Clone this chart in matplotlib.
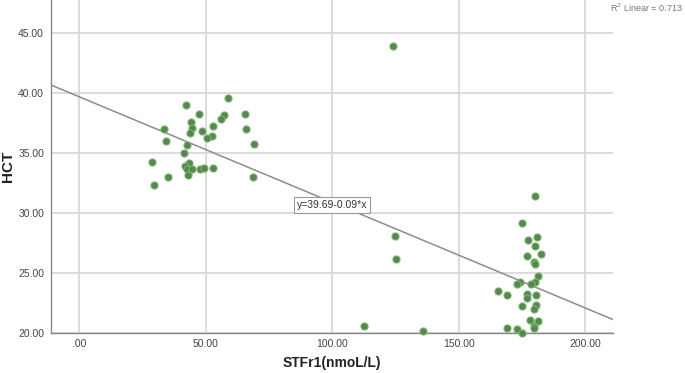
import numpy as np
import matplotlib.pyplot as plt

plt.rcParams['font.family'] = ['Liberation Sans', 'DejaVu Sans']

# STFr1 (nmol/L) vs HCT
stfr1 = [58.8, 42.2, 47.4, 57.3, 56.0, 65.5, 44.2, 53.1, 33.6, 44.5,
         48.6, 66.1, 43.9, 52.5, 50.7, 34.4, 69.1, 42.7, 41.6, 28.9,
         43.5, 41.9, 42.7, 44.5, 47.8, 49.3, 53.1, 35.3, 43.1, 29.8,
         68.8,
         124.2, 124.8, 125.3, 112.4, 136.0,
         180.1, 175.0, 180.9, 177.5, 180.1, 182.6, 176.9, 179.7, 180.0, 181.3,
         174.2, 173.2, 180.2, 178.5, 165.7, 169.0, 177.1, 180.4, 176.9, 175.1,
         180.5, 179.7, 178.3, 181.5, 179.8, 179.8, 169.2, 173.1, 175.1]
hct = [39.56, 38.98, 38.28, 38.17, 37.86, 38.28, 37.56, 37.28, 36.98, 37.08,
       36.86, 36.98, 36.67, 36.39, 36.25, 35.98, 35.78, 35.67, 34.98, 34.28,
       34.19, 33.94, 33.69, 33.67, 33.69, 33.78, 33.78, 32.98, 33.14, 32.36,
       32.98,
       43.94, 28.08, 26.17, 20.58, 20.20,
       31.39, 29.19, 27.97, 27.78, 27.28, 26.61, 26.39, 25.92, 25.72, 24.78,
       24.28, 24.08, 24.25, 24.11, 23.50, 23.19, 23.22, 23.19, 22.94, 22.28,
       22.36, 22.00, 21.11, 20.97, 20.58, 20.42, 20.42, 20.31, 20.03]

intercept = 39.69
slope = -0.088
fit_label = "y=39.69-0.09*x"
r2_label = "R$^2$ Linear = 0.713"

xticks = [0, 50, 100, 150, 200]
xticklabels = [".00", "50.00", "100.00", "150.00", "200.00"]
yticks = [20, 25, 30, 35, 40, 45]
yticklabels = ["20.00", "25.00", "30.00", "35.00", "40.00", "45.00"]

fig = plt.figure(figsize=(6.85, 3.73), dpi=100)
ax = fig.add_axes([51/685, 40/373, (613-51)/685, 333/373])

xlim = (-11.1, 211)
ax.set_xlim(*xlim)
ax.set_ylim(20, 47.75)

ax.set_xticks(xticks)
ax.set_xticklabels(xticklabels)
ax.set_yticks(yticks)
ax.set_yticklabels(yticklabels)
ax.grid(True, color='#d9d9d9', linewidth=1.3)
ax.set_axisbelow(True)
ax.tick_params(length=0, labelsize=7.5, colors='#444444')
ax.tick_params(axis='x', pad=4)
ax.tick_params(axis='y', pad=5)

for s in ['top', 'right']:
    ax.spines[s].set_visible(False)
for s in ['left', 'bottom']:
    ax.spines[s].set_color('#888888')
    ax.spines[s].set_linewidth(1.0)

xs = np.array(xlim)
ax.plot(xs, intercept + slope * xs, color='#8c8c8c', linewidth=1.1, zorder=2)

ax.scatter(stfr1, hct, s=26, facecolor='#5a8456', edgecolor='#74b565',
           linewidth=0.8, zorder=3, clip_on=False)

ax.text(100, 30.67, fit_label, ha='center', va='center', fontsize=7.5,
        color='#333333', zorder=4,
        bbox=dict(boxstyle='square,pad=0.25', facecolor='white',
                  edgecolor='#999999', linewidth=0.8))

fig.text(332/685, 1 - 363/373, "STFr1(nmoL/L)", fontsize=10, fontweight='bold',
         color='#222222', ha='center', va='center')
fig.text(8/685, 1 - 166/373, "HCT", fontsize=11, fontweight='bold',
         color='#222222', ha='center', va='center', rotation=90)

fig.text(683/685, 1 - 8/373, r2_label, fontsize=6.5, color='#777777', va='center', ha='right')

fig.savefig("out.png", dpi=100)
